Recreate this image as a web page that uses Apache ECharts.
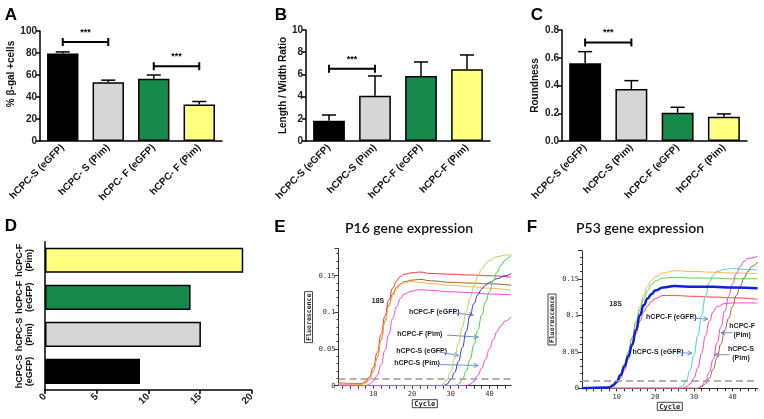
<!DOCTYPE html>
<html><head><meta charset="utf-8">
<script src="https://cdn.jsdelivr.net/npm/echarts@6/dist/echarts.min.js"></script>
<style>html,body{margin:0;padding:0;background:#fff}#c{width:764px;height:419px}</style>
</head><body><div id="c"></div>
<script>
// ---------- DATA ----------
const catsA = ['hCPC-S (eGFP)', 'hCPC- S (Pim)', 'hCPC- F (eGFP)', 'hCPC- F (Pim)'];
const valsA = [79.5, 53.5, 56.5, 33.2];
const errA  = [81, 55.3, 60, 35.9];
const sigA  = [[0, 1, 90], [2, 3, 68]];

const catsB = ['hCPC-S (eGFP)', 'hCPC-S (Pim)', 'hCPC-F (eGFP)', 'hCPC-F (Pim)'];
const valsB = [1.83, 4.08, 5.86, 6.46];
const errB  = [2.34, 5.86, 7.12, 7.75];
const sigB  = [[0, 1, 6.5]];

const catsC = ['hCPC-S (eGFP)', 'hCPC-S (Pim)', 'hCPC-F (eGFP)', 'hCPC-F (Pim)'];
const valsC = [0.56, 0.375, 0.204, 0.175];
const errC  = [0.644, 0.435, 0.243, 0.195];
const sigC  = [[0, 1, 0.71]];

const catsD = ['hCPC-S\n(eGFP)', 'hCPC-S\n(Pim)', 'hCPC-F\n(eGFP)', 'hCPC-F\n(Pim)'];
const valsD = [9.2, 15.1, 14.1, 19.2];

const cycleTicks  = [2,4,6,8,10,12,14,16,18,20,22,24,26,28,30,32,34,36,38,40,42,44,46];
const cycleLabels = [10, 20, 30, 40];
const thresholdE = 0.005;
const thresholdF = 0.007;

// P16 (panel E) amplification curves [cycle, fluorescence]
const eRed = [[1,0.004],[5,0.003],[7,0.003],[8,0.006],[9,0.012],[10,0.025],[11,0.045],[12,0.07],[13,0.095],[14,0.117],[15,0.133],[16,0.143],[17,0.149],[18,0.152],[20,0.154],[22,0.155],[25,0.153],[30,0.152],[35,0.151],[40,0.150],[45.6,0.148]];
const eBrown = [[1,0.003],[7,0.002],[8,0.004],[9,0.009],[10,0.02],[11,0.038],[12,0.062],[13,0.088],[14,0.11],[15,0.125],[16,0.134],[17,0.139],[18,0.142],[20,0.144],[22,0.145],[25,0.143],[30,0.141],[35,0.140],[40,0.139],[45.6,0.137]];
const eOrange = [[1,0.003],[7,0.002],[8,0.004],[9,0.009],[10,0.02],[11,0.038],[12,0.062],[13,0.087],[14,0.108],[15,0.122],[16,0.131],[17,0.137],[18,0.140],[20,0.142],[22,0.141],[25,0.139],[30,0.137],[35,0.135],[40,0.133],[45.6,0.130]];
const eMagenta18S = [[1,0.001],[8,0.0],[9,0.002],[10,0.006],[11,0.014],[12,0.028],[13,0.048],[14,0.07],[15,0.092],[16,0.108],[17,0.119],[18,0.125],[20,0.129],[22,0.131],[25,0.130],[30,0.128],[35,0.127],[40,0.125],[45.6,0.124]];
const eYellowGreen = [[1,0.0],[27,0.0],[28,0.002],[29,0.008],[30,0.02],[31,0.037],[32,0.058],[33,0.08],[34,0.101],[35,0.12],[36,0.136],[37,0.149],[38,0.159],[39,0.166],[40,0.171],[42,0.176],[44,0.178],[45.6,0.179]];
const eBlue = [[1,0.0],[28,0.0],[29,0.002],[30,0.008],[31,0.018],[32,0.033],[33,0.052],[34,0.074],[35,0.096],[36,0.112],[37,0.124],[38,0.132],[39,0.137],[40,0.141],[42,0.146],[44,0.150],[45.6,0.153]];
const eGreen = [[1,0.0],[31,0.0],[32,0.002],[33,0.008],[34,0.02],[35,0.036],[36,0.056],[37,0.076],[38,0.096],[39,0.114],[40,0.128],[41,0.143],[42,0.155],[43,0.164],[44,0.171],[45,0.175],[45.6,0.178]];
const eMagentaLate = [[1,0.0],[34,0.0],[35,0.002],[36,0.006],[37,0.014],[38,0.024],[39,0.036],[40,0.05],[41,0.063],[42,0.074],[43,0.082],[44,0.088],[45.6,0.094]];

// P53 (panel F) amplification curves [cycle, fluorescence]
const fOrange = [[1,0.0],[7,0.0],[8,0.002],[9,0.005],[10,0.01],[11,0.02],[12,0.033],[13,0.05],[14,0.07],[15,0.092],[16,0.112],[17,0.128],[18,0.14],[19,0.148],[20,0.153],[22,0.158],[25,0.161],[30,0.160],[35,0.159],[40,0.158],[46.5,0.157]];
const fGreen = [[1,0.0],[7,0.0],[8,0.002],[9,0.005],[10,0.01],[11,0.02],[12,0.033],[13,0.05],[14,0.069],[15,0.09],[16,0.108],[17,0.123],[18,0.134],[19,0.142],[20,0.147],[22,0.151],[25,0.152],[30,0.151],[35,0.151],[40,0.150],[46.5,0.150]];
const fRed = [[1,0.0],[8,0.0],[9,0.003],[10,0.007],[11,0.014],[12,0.025],[13,0.04],[14,0.057],[15,0.075],[16,0.092],[17,0.105],[18,0.113],[19,0.119],[20,0.123],[22,0.127],[25,0.127],[30,0.126],[35,0.125],[40,0.124],[46.5,0.122]];
const fBlue = [[1,0.0],[8,0.001],[9,0.004],[10,0.009],[11,0.018],[12,0.03],[13,0.044],[14,0.06],[15,0.08],[16,0.1],[17,0.114],[18,0.123],[19,0.129],[20,0.134],[22,0.138],[25,0.140],[30,0.139],[35,0.139],[40,0.138],[46.5,0.137]];
const fCyan = [[1,0.0],[26,0.0],[27,0.003],[28,0.01],[29,0.025],[30,0.045],[31,0.072],[32,0.1],[33,0.127],[34,0.145],[35,0.155],[36,0.16],[38,0.163],[40,0.164],[43,0.163],[46.5,0.162]];
const fMagenta1 = [[1,0.0],[27,0.0],[28,0.002],[29,0.006],[30,0.014],[31,0.028],[32,0.048],[33,0.072],[34,0.092],[35,0.105],[36,0.112],[38,0.116],[40,0.117],[46.5,0.117]];
const fMagenta2 = [[1,0.0],[31,0.0],[32,0.003],[33,0.01],[34,0.022],[35,0.04],[36,0.062],[37,0.084],[38,0.106],[39,0.126],[40,0.143],[41,0.157],[42,0.167],[43,0.174],[44,0.178],[46.5,0.181]];
const fBrown = [[1,0.0],[31,0.0],[32,0.002],[33,0.006],[34,0.014],[35,0.026],[36,0.042],[37,0.061],[38,0.08],[39,0.096],[40,0.112],[41,0.127],[42,0.14],[43,0.151],[44,0.16],[45,0.167],[46.5,0.173]];

// ---------- STYLE / LAYOUT ----------
const barColors = ['#000000', '#d6d6d6', '#17894b', '#ffff80'];
const SANS = 'Liberation Sans';
const MONO = 'DejaVu Sans Mono';

// annotations (placed in data coordinates of the qPCR plots)
const annoE = [
  {text: '18S', pos: [11.2, 0.116], align: 'center'},
  {text: 'hCPC-F (eGFP)', pos: [19.2, 0.1005], align: 'left', from: [30.9, 0.099], to: [35.8, 0.0965]},
  {text: 'hCPC-F (Pim)', pos: [16.2, 0.0705], align: 'left', from: [29.0, 0.069], to: [37.1, 0.0664]},
  {text: 'hCPC-S (eGFP)', pos: [15.9, 0.0477], align: 'left', from: [27.0, 0.046], to: [32.0, 0.0412]},
  {text: 'hCPC-S (Pim)', pos: [15.4, 0.0306], align: 'left', from: [25.9, 0.0289], to: [37.1, 0.0276]}
];
const annoF = [
  {text: '18S', pos: [9.7, 0.115], align: 'center'},
  {text: 'hCPC-F (eGFP)', pos: [17.6, 0.097], align: 'left', from: [29.1, 0.0963], to: [33.6, 0.0949]},
  {text: 'hCPC-S (eGFP)', pos: [14.1, 0.0501], align: 'left', from: [25.4, 0.049], to: [29.5, 0.048]},
  {text: 'hCPC-F\n(Pim)', pos: [42.5, 0.0786], align: 'center', from: [40.0, 0.0762], to: [37.0, 0.0762]},
  {text: 'hCPC-S\n(Pim)', pos: [42.2, 0.047], align: 'center', from: [39.2, 0.046], to: [35.3, 0.046]}
];

function errRender(params, api) {
  const x = api.value(0), top = api.value(1), v = api.value(2);
  const p0 = api.coord([x, v]), p1 = api.coord([x, top]);
  const cap = 7;
  return {type: 'group', children: [
    {type: 'line', shape: {x1: p0[0], y1: p0[1], x2: p1[0], y2: p1[1]}, style: {stroke: '#000', lineWidth: 1.5}},
    {type: 'line', shape: {x1: p1[0] - cap, y1: p1[1], x2: p1[0] + cap, y2: p1[1]}, style: {stroke: '#000', lineWidth: 1.5}}
  ]};
}
function sigRender(params, api) {
  const a = api.coord([api.value(0), api.value(2)]);
  const b = api.coord([api.value(1), api.value(2)]);
  const s = {stroke: '#000', lineWidth: 2};
  return {type: 'group', children: [
    {type: 'line', shape: {x1: a[0], y1: a[1], x2: b[0], y2: b[1]}, style: s},
    {type: 'line', shape: {x1: a[0], y1: a[1] - 4, x2: a[0], y2: a[1] + 4}, style: s},
    {type: 'line', shape: {x1: b[0], y1: b[1] - 4, x2: b[0], y2: b[1] + 4}, style: s},
    {type: 'text', x: (a[0] + b[0]) / 2, y: a[1] - 5,
     style: {text: '***', textAlign: 'center', textVerticalAlign: 'bottom', font: 'bold 9px "' + SANS + '"', fill: '#000'}}
  ]};
}

const grids = [
  {left: 40, top: 31, width: 182, height: 110},        // A
  {left: 306, top: 30, width: 184, height: 111},       // B
  {left: 562, top: 30, width: 185, height: 111},       // C
  {left: 45, top: 241.7, width: 206.5, height: 148.3}, // D
  {left: 338.5, top: 248.6, width: 172.6, height: 137.1}, // E
  {left: 582, top: 250.7, width: 175.6, height: 137.6}    // F
];

function catXAxis(idx, cats) {
  return {
    type: 'category', gridIndex: idx, data: cats,
    axisLine: {lineStyle: {color: '#000', width: 1.5}},
    axisTick: {alignWithLabel: true, length: 4, lineStyle: {color: '#000', width: 1.5}},
    axisLabel: {rotate: 45, margin: 5, fontFamily: SANS, fontWeight: 'bold', fontSize: 10, color: '#111', interval: 0}
  };
}
function valYAxis(idx, min, max, interval, name, gap, fmt, shift) {
  return {
    type: 'value', gridIndex: idx, min, max, interval,
    name, nameLocation: 'middle', nameGap: gap, nameRotate: 90,
    nameTextStyle: {fontFamily: SANS, fontWeight: 'bold', fontSize: 10, color: '#111', padding: [0, 0, 0, shift || 0]},
    axisLine: {show: true, lineStyle: {color: '#000', width: 1.5}},
    axisTick: {show: true, length: 4, lineStyle: {color: '#000', width: 1.5}},
    splitLine: {show: false},
    axisLabel: {fontFamily: SANS, fontWeight: 'bold', fontSize: 10, color: '#222', margin: 3, formatter: fmt}
  };
}
function barSeries(idx, vals, horizontal) {
  return {
    type: 'bar', xAxisIndex: idx, yAxisIndex: idx, barWidth: horizontal ? '68%' : '69%',
    data: vals.map((v, i) => ({value: v, itemStyle: {color: barColors[i]}})),
    itemStyle: {borderColor: '#000', borderWidth: 1.5}, silent: true, z: 2
  };
}
function errSeries(idx, vals, errs) {
  return {type: 'custom', xAxisIndex: idx, yAxisIndex: idx, renderItem: errRender, silent: true, z: 3,
    data: vals.map((v, i) => [i, errs[i], v])};
}
function sigSeries(idx, sig) {
  return {type: 'custom', xAxisIndex: idx, yAxisIndex: idx, renderItem: sigRender, silent: true, z: 3, data: sig};
}

function qXAxis(idx, max) {
  return {
    type: 'value', gridIndex: idx, min: 1, max,
    name: 'Cycle', nameLocation: 'middle', nameGap: 14,
    nameTextStyle: {fontFamily: MONO, fontWeight: 'bold', fontSize: 7, color: '#222',
      borderColor: '#444', borderWidth: 1, padding: [1, 2, 0, 2]},
    axisLine: {lineStyle: {color: '#333', width: 1}},
    axisTick: {length: 3, customValues: cycleTicks, lineStyle: {color: '#333'}},
    axisLabel: {customValues: cycleLabels, fontFamily: MONO, fontSize: 7, color: '#333', margin: 5},
    splitLine: {show: false}
  };
}
function qYAxis(idx, max) {
  return {
    type: 'value', gridIndex: idx, min: 0, max, interval: 0.05,
    name: 'Fluorescence', nameLocation: 'middle', nameGap: 26, nameRotate: 90,
    nameTextStyle: {fontFamily: MONO, fontWeight: 'bold', fontSize: 6.5, color: '#222',
      borderColor: '#444', borderWidth: 1, padding: [1, 2, 0, 2]},
    axisLine: {show: true, lineStyle: {color: '#333', width: 1}},
    axisTick: {show: true, length: 4, lineStyle: {color: '#333'}},
    minorTick: {show: true, splitNumber: 5, length: 2, lineStyle: {color: '#333'}},
    splitLine: {show: false},
    axisLabel: {fontFamily: MONO, fontSize: 7, color: '#333', margin: 3, showMaxLabel: false,
      formatter: v => v === 0 ? '0' : String(+v.toFixed(2))}
  };
}
function curve(idx, data, color, width) {
  return {type: 'line', xAxisIndex: idx, yAxisIndex: idx, data, showSymbol: false, symbol: 'none',
    smooth: 0.5, smoothMonotone: 'x', silent: true, animation: false,
    lineStyle: {color, width: width || 1}, z: width ? 4 : 3};
}
function threshold(idx, val) {
  return {type: 'line', xAxisIndex: idx, yAxisIndex: idx, data: [], silent: true, z: 5,
    markLine: {silent: true, symbol: 'none', label: {show: false},
      lineStyle: {color: '#999', type: [7, 4], width: 1.5}, data: [{yAxis: val}]}};
}

const chart = echarts.init(document.getElementById('c'), null, {renderer: 'canvas'});

const option = {
  animation: false,
  backgroundColor: '#fff',
  grid: grids,
  xAxis: [
    catXAxis(0, catsA), catXAxis(1, catsB), catXAxis(2, catsC),
    {type: 'value', gridIndex: 3, min: 0, max: 20, interval: 5,
      axisLine: {show: true, lineStyle: {color: '#000', width: 1.5}},
      axisTick: {show: true, length: 4, lineStyle: {color: '#000', width: 1.5}},
      splitLine: {show: false},
      axisLabel: {rotate: 45, fontFamily: SANS, fontWeight: 'bold', fontSize: 10, color: '#222', margin: 5}},
    qXAxis(4, 45.6), qXAxis(5, 46.5)
  ],
  yAxis: [
    valYAxis(0, 0, 100, 20, '% β-gal +cells', 19, undefined, 24),
    valYAxis(1, 0, 10, 2, 'Length / Width Ratio', 17),
    valYAxis(2, 0, 0.8, 0.2, 'Roundness', 22, v => v.toFixed(1)),
    {type: 'category', gridIndex: 3, data: catsD,
      axisLine: {lineStyle: {color: '#000', width: 1.5}},
      axisTick: {alignWithLabel: true, length: 4, lineStyle: {color: '#000', width: 1.5}},
      axisLabel: {rotate: 90, interval: 0, margin: 10, fontFamily: SANS, fontWeight: 'bold', fontSize: 9, lineHeight: 10, color: '#111'}},
    qYAxis(4, 0.187), qYAxis(5, 0.1885)
  ],
  series: [
    barSeries(0, valsA), errSeries(0, valsA, errA), sigSeries(0, sigA),
    barSeries(1, valsB), errSeries(1, valsB, errB), sigSeries(1, sigB),
    barSeries(2, valsC), errSeries(2, valsC, errC), sigSeries(2, sigC),
    barSeries(3, valsD, true),
    threshold(4, thresholdE),
    curve(4, eRed, '#ff3333'), curve(4, eBrown, '#a0622d'), curve(4, eOrange, '#ffb347'),
    curve(4, eMagenta18S, '#ff44dd'), curve(4, eYellowGreen, '#a6dc4c'), curve(4, eBlue, '#3535ee'),
    curve(4, eGreen, '#33dd33'), curve(4, eMagentaLate, '#ff44dd'),
    threshold(5, thresholdF),
    curve(5, fOrange, '#ffb347'), curve(5, fGreen, '#44dd44'), curve(5, fRed, '#ff4040'),
    curve(5, fCyan, '#44d8cc'), curve(5, fMagenta1, '#ff3fd4'), curve(5, fMagenta2, '#ff3fd4'),
    curve(5, fBrown, '#a0622d'), curve(5, fBlue, '#0a22e0', 2.5)
  ]
};
chart.setOption(option);

// ---------- panel letters, titles, annotations ----------
const g = [];
const letters = [['A', 11, 15], ['B', 281, 15], ['C', 537, 15], ['D', 11, 226], ['E', 280, 227], ['F', 532, 227]];
letters.forEach(([t, x, y]) => g.push({type: 'text', x, y, silent: true,
  style: {text: t, font: 'bold 17px "' + SANS + '"', fill: '#000', textAlign: 'center', textVerticalAlign: 'middle'}}));
[['P16 gene expression', 409, 228], ['P53 gene expression', 640, 228]].forEach(([t, x, y]) => g.push({
  type: 'text', x, y, silent: true,
  style: {text: t, font: '600 14px "Lato"', fill: '#111', textAlign: 'center', textVerticalAlign: 'middle'}}));

function addAnno(gridIndex, list) {
  list.forEach(a => {
    const p = chart.convertToPixel({gridIndex}, a.pos);
    g.push({type: 'text', x: p[0], y: p[1], silent: true,
      style: {text: a.text, font: 'bold 7px "' + SANS + '"', fill: '#222', lineHeight: 9,
        textAlign: a.align, textVerticalAlign: 'middle'}});
    if (a.from) {
      const s = chart.convertToPixel({gridIndex}, a.from);
      const e = chart.convertToPixel({gridIndex}, a.to);
      const ang = Math.atan2(e[1] - s[1], e[0] - s[0]);
      const L = 5, w = 0.45;
      const st = {stroke: '#6f8fcf', lineWidth: 1};
      g.push({type: 'line', silent: true, shape: {x1: s[0], y1: s[1], x2: e[0], y2: e[1]}, style: st});
      g.push({type: 'polyline', silent: true, shape: {points: [
        [e[0] - L * Math.cos(ang - w), e[1] - L * Math.sin(ang - w)],
        [e[0], e[1]],
        [e[0] - L * Math.cos(ang + w), e[1] - L * Math.sin(ang + w)]]}, style: st});
    }
  });
}
addAnno(4, annoE);
addAnno(5, annoF);
chart.setOption({graphic: g});
</script>
</body></html>
